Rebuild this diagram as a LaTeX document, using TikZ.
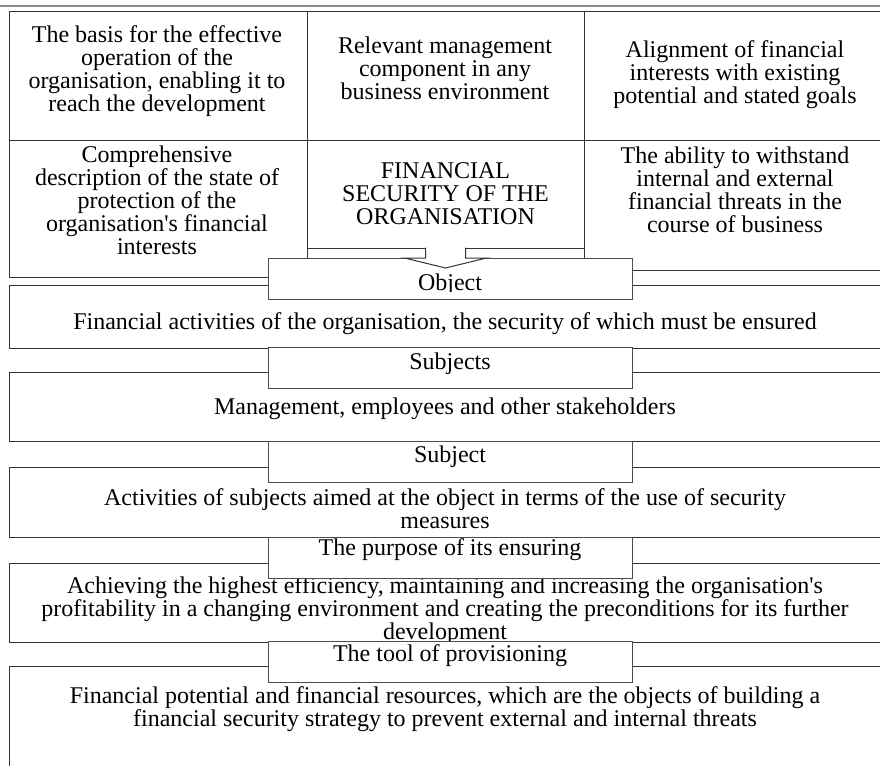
\documentclass[tikz,border=0pt]{standalone}
\usepackage{fontspec}
\setmainfont{Liberation Serif}
\usetikzlibrary{calc}
\newcommand\boxfont{\fontsize{24}{23}\selectfont}

\begin{document}
\begin{tikzpicture}[x=1pt, y=-1pt,
  cell/.style={draw=black!80, line width=1pt, fill=white},
  tag/.style={draw=black!70, line width=1pt, fill=white, inner sep=0pt,
    minimum width=364, minimum height=41},
  txt/.style={align=center, inner sep=0pt, font=\boxfont}]
  \useasboundingbox (0,0) rectangle (880,765);
  \clip (0,0) rectangle (880,765);

  % running head rule
  \draw[black!45, line width=2.5pt] (0,6) -- (880,6);

  % upper cells
  \draw[cell] (9,12) rectangle (307,140);
  \node[txt] (basis) at (157,71.5) {The basis for the effective\\operation of the\\organisation, enabling it to\\reach the development};

  \draw[cell] (307,12) rectangle (584,140);
  \node[txt] (relevant) at (445,68) {Relevant management\\component in any\\business environment};

  \draw[cell] (584,12) rectangle (884,140);
  \node[txt] (align) at (735,75) {Alignment of financial\\interests with existing\\potential and stated goals};

  \draw[cell] (9,140) rectangle (307,277);
  \node[txt] (descr) at (157,200) {Comprehensive\\description of the state of\\protection of the\\organisation\textquotesingle s financial\\interests};

  \draw[cell] (584,140) rectangle (884,270);
  \node[txt] (ability) at (735,190) {The ability to withstand\\internal and external\\financial threats in the\\course of business};

  \node[cell, txt, minimum width=277, minimum height=108] (fin) at (445.5,194) {FINANCIAL\\SECURITY OF THE\\ORGANISATION};

  % object
  \draw[cell] (9,285) rectangle (884,348);
  \node[txt] (activ) at (445,323.5) {Financial activities of the organisation, the security of which must be ensured};
  \node[tag] (obj) at (450,279) {};
  \begin{scope}
    \clip (obj.north west) rectangle (632,291.5);
    \node[txt] (objtxt) at (450,284.5) {Object};
  \end{scope}

  % arrow from the centre box
  \coordinate (top) at (fin.south);
  \coordinate (base) at (fin.south |- obj.north);
  \draw[cell] ($(top)+(-20,-1)$) -- ($(base)+(-20,0)$) -- ($(base)+(-41,0)$)
    -- ($(base)+(0,10)$) -- ($(base)+(41,0)$) -- ($(base)+(20,0)$) -- ($(top)+(20,-1)$);

  % subjects
  \draw[cell] (9,372) rectangle (884,441);
  \node[txt] (manag) at (445,408.5) {Management, employees and other stakeholders};
  \node[tag] (subjs) at (450,368) {};
  \node[txt] (subjstxt) at (450,363.5) {Subjects};

  % subject
  \draw[cell] (9,467) rectangle (884,537);
  \node[txt] (activs) at (445,509) {Activities of subjects aimed at the object in terms of the use of security\\measures};
  \node[tag] (subj) at (450,461.5) {};
  \node[txt] (subjtxt) at (450,456.5) {Subject};

  % purpose
  \draw[cell] (9,563) rectangle (884,642);
  \begin{scope}
    \clip (9,563) rectangle (884,642);
    \node[txt] (achiev) at (445,611) {Achieving the highest efficiency, maintaining and increasing the organisation\textquotesingle s\\profitability in a changing environment and creating the preconditions for its further\\development};
  \end{scope}
  \node[tag] (purp) at (450,557.5) {};
  \node[txt] (purptxt) at (450,549.5) {The purpose of its ensuring};

  % tool
  \draw[cell] (9,666) rectangle (884,790);
  \node[txt] (poten) at (445,709) {Financial potential and financial resources, which are the objects of building a\\financial security strategy to prevent external and internal threats};
  \node[tag] (tool) at (450,662) {};
  \node[txt] (tooltxt) at (450,656) {The tool of provisioning};
\end{tikzpicture}
\end{document}
